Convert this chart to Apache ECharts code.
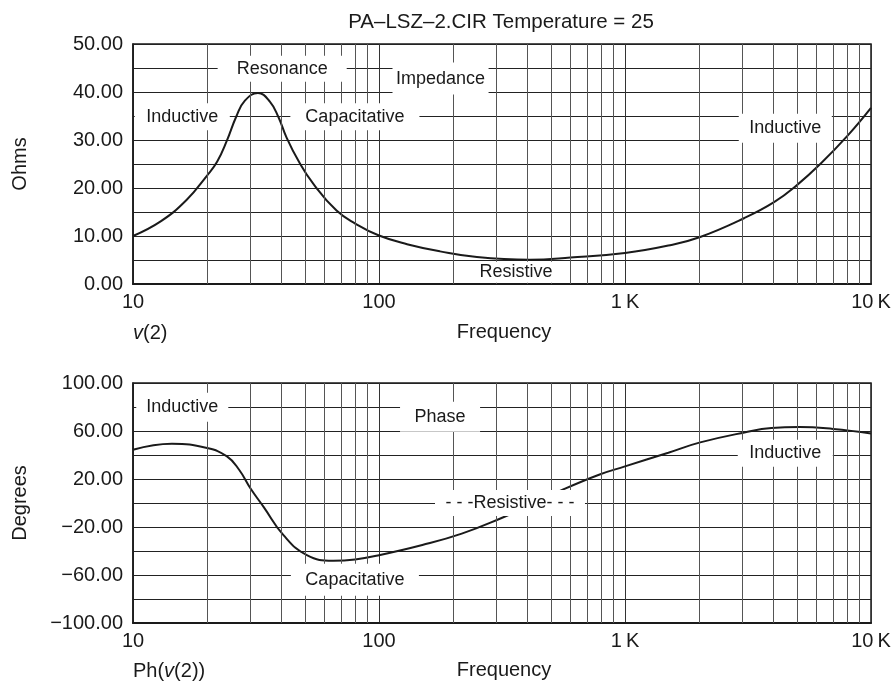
<!DOCTYPE html>
<html>
<head>
<meta charset="utf-8">
<script src="https://cdn.jsdelivr.net/npm/echarts@6/dist/echarts.min.js"></script>
<style>html,body{margin:0;padding:0;background:#fff}#c{width:894px;height:681px}</style>
</head>
<body>
<div id="c"></div>
<script>
// ---- Data ----
const freqZ = [10, 13, 16.5, 20, 22, 24.1, 26.3, 28.5, 32.2, 36, 39, 42.1, 47.1, 54.2, 67.2, 80, 100, 130, 177, 250, 410, 600, 1000, 1500, 2022, 3060, 4050, 5000, 6250, 8000, 10000];
const ohms  = [10, 13.1, 17.5, 22.6, 25.5, 29.9, 34.9, 38.2, 39.8, 38.0, 34.8, 30.5, 25.6, 20.8, 15.3, 12.6, 10.1, 8.3, 6.8, 5.6, 5.06, 5.5, 6.45, 8.0, 9.8, 13.75, 17.1, 20.6, 25.1, 30.8, 36.7];

const freqP = [10, 14.4, 20, 24.1, 27, 30, 34, 40.9, 50.9, 65.1, 80, 100, 150, 217, 315, 400, 561, 789, 1000, 1500, 2022, 3060, 3939, 5129, 7008, 10000];
const phase = [44.4, 49.4, 45.8, 38.8, 27.7, 12.3, -3.4, -26.8, -43.5, -48.1, -47, -43.5, -35, -25.5, -12.5, -3, 11.3, 23.8, 30.5, 41.9, 50.5, 58.8, 62.5, 63.3, 61.7, 58];

const xTickValues = [10, 100, 1000, 10000];
const xTickLabels = ['10', '100', '1\u2009K', '10\u2009K'];
const minorFreqs = [20, 30, 40, 50, 60, 70, 80, 90, 200, 300, 400, 500, 600, 700, 800, 900, 2000, 3000, 4000, 5000, 6000, 7000, 8000, 9000];

const ohmTickValues = [0, 10, 20, 30, 40, 50];
const ohmTickLabels = ['0.00', '10.00', '20.00', '30.00', '40.00', '50.00'];
const degTickValues = [-100, -60, -20, 20, 60, 100];
const degTickLabels = ['\u2212100.00', '\u221260.00', '\u221220.00', '20.00', '60.00', '100.00'];

const annoText = ['Resonance', 'Impedance', 'Inductive', 'Capacitative', 'Inductive', 'Resistive',
                  'Inductive', 'Phase', '- - -Resistive- - -', 'Inductive', 'Capacitative'];
const annoGrid = [0, 0, 0, 0, 0, 0, 1, 1, 1, 1, 1];
const annoFreq = [40.4, 177.9, 15.86, 79.8, 4483, 360.5, 15.86, 177.1, 340.8, 4483, 79.8];
const annoVal  = [44.85, 42.8, 34.85, 34.85, 32.46, 2.46, 79.8, 71.9, 0, 41.5, -63.9];

// ---- Styles ----
const annoPad = [[4,19],[7,3.5],[4.5,11.5],[4.5,15],[5.5,10.5],[1.5,10],[5.5,10],[6,14.5],[4,10.5],[4.5,11.5],[7,14.5]];
const FONT = '"Liberation Sans", Arial, Helvetica, sans-serif';
const INK = '#1a1a1a';

const chart = echarts.init(document.getElementById('c'), null, {renderer: 'canvas'});

function xLabel(v) {
  for (let i = 0; i < xTickValues.length; i++) {
    if (Math.abs(Math.log10(v) - Math.log10(xTickValues[i])) < 1e-6) return xTickLabels[i];
  }
  return '';
}
function makeX(gi) {
  return {
    type: 'log', logBase: 10, gridIndex: gi, min: 10, max: 10000,
    axisLine: {show: true, onZero: false, lineStyle: {color: INK, width: 2}},
    axisTick: {show: false},
    splitLine: {show: true, lineStyle: {color: '#333', width: 1}},
    axisLabel: {fontSize: 20, fontFamily: FONT, color: INK, margin: 8, formatter: xLabel,
                showMinLabel: true, showMaxLabel: true, hideOverlap: false}
  };
}
function makeY(gi, min, max, interval, vals, labs) {
  return {
    type: 'value', gridIndex: gi, min: min, max: max, interval: interval,
    axisLine: {show: true, onZero: false, lineStyle: {color: INK, width: 1.5}},
    axisTick: {show: false},
    splitLine: {show: true, lineStyle: {color: '#222', width: 1}},
    axisLabel: {fontSize: 20, fontFamily: FONT, color: INK, margin: 10,
      showMinLabel: true, showMaxLabel: true, hideOverlap: false,
      formatter: function (v) {
        const i = vals.findIndex(t => Math.abs(t - v) < 1e-6);
        return i >= 0 ? labs[i] : '';
      }}
  };
}
function vLines() {
  return {
    silent: true, symbol: ['none', 'none'], animation: false,
    label: {show: false},
    lineStyle: {color: '#555', width: 1, type: 'solid'},
    emphasis: {disabled: true},
    data: minorFreqs.map(f => ({xAxis: f}))
  };
}

chart.setOption({
  animation: false,
  backgroundColor: '#fff',
  grid: [
    {left: 133, top: 44, width: 738, height: 240, show: true, borderColor: INK, borderWidth: 1.5, backgroundColor: 'transparent'},
    {left: 133, top: 383, width: 738, height: 240, show: true, borderColor: INK, borderWidth: 1.5, backgroundColor: 'transparent'}
  ],
  xAxis: [makeX(0), makeX(1)],
  yAxis: [
    makeY(0, 0, 50, 5, ohmTickValues, ohmTickLabels),
    makeY(1, -100, 100, 20, degTickValues, degTickLabels)
  ],
  series: [
    {type: 'line', xAxisIndex: 0, yAxisIndex: 0, showSymbol: false, smooth: 0.45,
     lineStyle: {color: INK, width: 2}, data: freqZ.map((f, i) => [f, ohms[i]]), markLine: vLines()},
    {type: 'line', xAxisIndex: 1, yAxisIndex: 1, showSymbol: false, smooth: 0.45,
     lineStyle: {color: INK, width: 2}, data: freqP.map((f, i) => [f, phase[i]]), markLine: vLines()}
  ]
});

const txt = (text, x, y, opts) => Object.assign({
  type: 'text', x: x, y: y, z: 100,
  style: Object.assign({text: text, fontSize: 20, fontFamily: FONT, fill: INK, align: 'center', verticalAlign: 'middle'}, (opts && opts.style) || {})
}, (opts && opts.el) || {});

const els = [
  txt('PA\u2013LSZ\u20132.CIR Temperature = 25', 501, 22, {style: {fontSize: 20.5}}),
  txt('Ohms', 20, 164, {el: {rotation: Math.PI / 2}}),
  txt('Degrees', 20, 503, {el: {rotation: Math.PI / 2}}),
  txt('{i|v}(2)', 133, 333, {style: {align: 'left', rich: {i: {fontStyle: 'italic', fontSize: 20, fontFamily: FONT, fill: INK}}}}),
  txt('Frequency', 504, 332),
  txt('Ph({i|v}(2))', 133, 671, {style: {align: 'left', rich: {i: {fontStyle: 'italic', fontSize: 20, fontFamily: FONT, fill: INK}}}}),
  txt('Frequency', 504, 670)
];

annoText.forEach((t, i) => {
  const p = chart.convertToPixel({gridIndex: annoGrid[i]}, [annoFreq[i], annoVal[i]]);
  els.push({
    type: 'text', x: p[0], y: p[1], z: 100,
    style: {text: t, fontSize: 18, fontFamily: FONT, fill: INK, align: 'center', verticalAlign: 'middle',
            backgroundColor: '#fff', padding: annoPad[i]}
  });
});

chart.setOption({graphic: {elements: els}});
</script>
</body>
</html>
